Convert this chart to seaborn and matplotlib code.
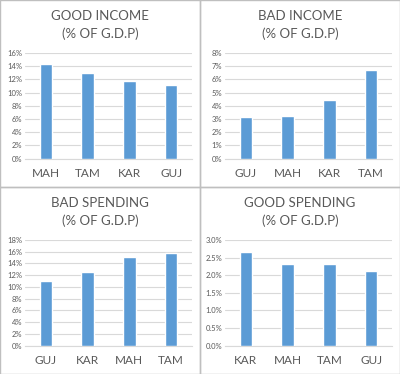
import matplotlib
matplotlib.use("Agg")
import matplotlib.pyplot as plt
import seaborn as sns
import pandas as pd
from matplotlib.patches import Rectangle
from matplotlib.ticker import PercentFormatter

# values (percent of GDP)
good_income_states = ["MAH", "TAM", "KAR", "GUJ"]
good_income_vals = [14.4, 13.0, 11.7, 11.2]

bad_income_states = ["GUJ", "MAH", "KAR", "TAM"]
bad_income_vals = [3.17, 3.2, 4.43, 6.72]

bad_spending_states = ["GUJ", "KAR", "MAH", "TAM"]
bad_spending_vals = [11.1, 12.56, 15.17, 15.8]

good_spending_states = ["KAR", "MAH", "TAM", "GUJ"]
good_spending_vals = [2.66, 2.31, 2.31, 2.11]

sns.set_theme(style="white")
plt.rcParams['font.family'] = ['Lato', 'DejaVu Sans']

W, H = 400, 374
fig = plt.figure(figsize=(W / 100, H / 100), dpi=100)
fig.patch.set_facecolor("white")

bar_color = "#5B9BD5"
text_color = "#595959"

panels = [
    # title, states, values, ymax, step, decimals, panel origin (px)
    ("GOOD INCOME", good_income_states, good_income_vals, 16, 2, 0, (0, 0)),
    ("BAD INCOME", bad_income_states, bad_income_vals, 8, 1, 0, (200, 0)),
    ("BAD SPENDING", bad_spending_states, bad_spending_vals, 18, 2, 0, (0, 187)),
    ("GOOD SPENDING", good_spending_states, good_spending_vals, 3.0, 0.5, 1, (200, 187)),
]

for title, states, vals, ymax, step, dec, (px, py) in panels:
    # panel border
    fig.patches.append(Rectangle((px / W, 1 - (py + 187) / H), 200 / W, 187 / H,
                                 transform=fig.transFigure, fill=False,
                                 edgecolor="#BFBFBF", linewidth=1.0))
    left = (px + 25) / W
    right = (px + 192) / W
    top = 1 - (py + 53) / H
    bottom = 1 - (py + 158.7) / H
    ax = fig.add_axes([left, bottom, right - left, top - bottom])
    df = pd.DataFrame({"state": states, "val": vals})
    sns.barplot(data=df, x="state", y="val", color=bar_color, width=0.3,
                saturation=1, ax=ax, zorder=3)
    ax.set_ylim(0, ymax)
    ticks = [i * step for i in range(int(round(ymax / step)) + 1)]
    ax.set_yticks(ticks)
    ax.yaxis.set_major_formatter(PercentFormatter(decimals=dec))
    ax.grid(axis="y", color="#D9D9D9", linewidth=0.8, zorder=0)
    for s in ["top", "right", "left"]:
        ax.spines[s].set_visible(False)
    ax.spines["bottom"].set_color("#D9D9D9")
    ax.spines["bottom"].set_linewidth(0.8)
    ax.set_xlabel("")
    ax.set_ylabel("")
    ax.tick_params(axis="y", labelsize=5.5, colors=text_color, length=0, pad=2)
    ax.tick_params(axis="x", labelsize=8.5, colors=text_color, length=0, pad=7)
    ax.set_xlim(-0.5, len(states) - 0.5)
    fig.text((px + 100) / W, 1 - (py + 16.5) / H, title, ha="center", va="center",
             fontsize=9.5, color=text_color)
    fig.text((px + 100) / W, 1 - (py + 33.5) / H, "(% OF G.D.P)", ha="center",
             va="center", fontsize=9.5, color=text_color)

fig.savefig("out.png", dpi=100)
